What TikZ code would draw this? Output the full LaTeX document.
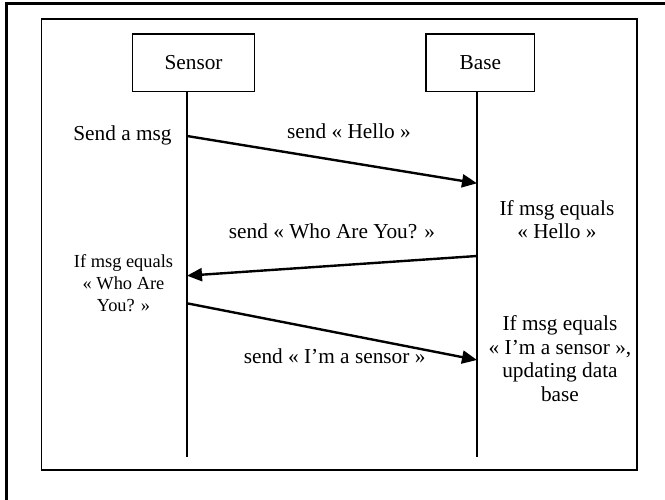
\documentclass[tikz,border=0pt]{standalone}
\usepackage{fontspec}
\setmainfont{Liberation Serif}
\usetikzlibrary{arrows.meta}
\begin{document}
\begin{tikzpicture}[x=1pt,y=-1pt,
  box/.style={draw, line width=1.5pt, minimum width=#1, minimum height=57.7pt, inner sep=0pt, font=\fontsize{21.3}{23}\selectfont},
  lbl/.style={font=\fontsize{21.3}{23.5}\selectfont, inner sep=0pt, align=center},
  slbl/.style={font=\fontsize{18.4}{21.7}\selectfont, inner sep=0pt, align=center},
  msg/.style={line width=2.4pt, -{Triangle[length=15pt,width=13pt]}},
  life/.style={line width=1.2pt},
  frame/.style={line width=1.5pt}]
\useasboundingbox (0,0) rectangle (665,500);
% outer border (left and top only visible)
\draw[line width=2.2pt] (6.5,500) -- (6.5,3.5) -- (665,3.5);
% inner frame
\draw[frame] (41.6,19) rectangle (637,470);
% actors
\node[box=121.8pt] (sensor) at (193.6,62.9) {Sensor};
\node[box=108.2pt] (base) at (480.3,62.9) {Base};
% lifelines
\coordinate (sTop) at (187,91.7);
\coordinate (sBot) at (187,456.7);
\coordinate (bTop) at (477,91.7);
\coordinate (bBot) at (477,456.7);
\draw[life] (sTop) -- (sBot);
\draw[life] (bTop) -- (bBot);
% message points
\coordinate (m1s) at (187,136);
\coordinate (m1e) at (477,183.3);
\coordinate (m2s) at (477,256);
\coordinate (m2e) at (187,275.7);
\coordinate (m3s) at (187,303.3);
\coordinate (m3e) at (477,360);
\draw[msg] (m1s) -- (m1e);
\draw[msg] (m2s) -- (m2e);
\draw[msg] (m3s) -- (m3e);
% labels
\node[lbl] (t1) at (122.5,135) {Send a msg};
\node[lbl] (l1) at (349,131.7) {send « Hello »};
\node[lbl] (t2) at (557,219.5) {If msg equals\\« Hello »};
\node[lbl] (l2) at (332,231.7) {send « Who Are You? »};
\node[slbl] (t3) at (123.5,283.3) {If msg equals\\« Who Are\\You? »};
\node[lbl] (l3) at (334.6,356) {send « I’m a sensor »};
\node[lbl] (t4) at (560,358.5) {If msg equals\\« I’m a sensor »,\\updating data\\base};
\end{tikzpicture}
\end{document}
